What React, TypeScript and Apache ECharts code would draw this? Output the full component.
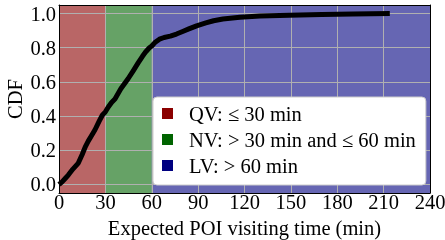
import React, { useEffect, useRef } from "react";
import * as echarts from "echarts";

const cdfMinutes = [0, 2, 4, 6, 9, 12.5, 15, 17, 19, 21, 23.3, 26, 28, 30, 32, 34, 36.2, 40, 44.8, 48, 51.3, 54, 56, 58.5, 60, 62, 65, 68, 72, 76, 80, 84, 89, 95, 100, 106, 117, 130, 149, 170, 190, 214];
const cdfValues = [0, 0.015, 0.035, 0.055, 0.09, 0.125, 0.175, 0.22, 0.255, 0.285, 0.32, 0.37, 0.405, 0.425, 0.455, 0.48, 0.5, 0.56, 0.62, 0.665, 0.713, 0.75, 0.775, 0.8, 0.81, 0.83, 0.85, 0.86, 0.868, 0.88, 0.895, 0.91, 0.928, 0.945, 0.958, 0.968, 0.978, 0.985, 0.99, 0.995, 0.998, 1.0];

const regionNames = ["QV: \u2264 30 min", "NV: > 30 min and \u2264 60 min", "LV: > 60 min"];
const regionStarts = [0, 30, 60];
const regionEnds = [30, 60, 240];
const regionColors = ["#8b0000", "#006400", "#000080"];

const xTicks = [0, 30, 60, 90, 120, 150, 180, 210, 240];
const yTicks = [0, 0.2, 0.4, 0.6, 0.8, 1.0];

const FONT = "Liberation Serif";
const FS = 20.5;

export default function App() {
  const ref = useRef<HTMLDivElement>(null);
  useEffect(() => {
    if (!ref.current) return;
    const chart = echarts.init(ref.current, null, { renderer: "svg" });
    const regionSeries = regionNames.map((name, i) => ({
      name,
      type: "line",
      data: [],
      z: 1,
      itemStyle: { color: regionColors[i] },
      markArea: {
        silent: true,
        itemStyle: { color: regionColors[i], opacity: 0.6 },
        data: [[{ xAxis: regionStarts[i] }, { xAxis: regionEnds[i] }]],
      },
    }));
    chart.setOption({
      animation: false,
      grid: { left: 59, right: 15, top: 5, bottom: 47, containLabel: false, outerBoundsMode: "none" },
      xAxis: [
        {
          type: "value",
          min: 0,
          max: 240,
          interval: 30,
          z: 3,
          name: "Expected POI visiting time (min)",
          nameLocation: "middle",
          nameGap: 24,
          nameMoveOverlap: false,
          nameTextStyle: { fontFamily: FONT, fontSize: FS, color: "#000" },
          axisLine: { show: true, onZero: false, lineStyle: { color: "#000", width: 1 } },
          axisTick: { show: false },
          axisLabel: {
            fontFamily: FONT,
            fontSize: FS,
            color: "#000",
            margin: -2,
            customValues: xTicks,
          },
          splitLine: { show: true, lineStyle: { color: "#b0b0b0", width: 1 } },
        },
        {
          type: "value",
          position: "top",
          min: 0,
          max: 240,
          z: 3,
          axisLine: { show: true, onZero: false, lineStyle: { color: "#000", width: 1 } },
          axisTick: { show: false },
          axisLabel: { show: false },
          splitLine: { show: false },
        },
      ],
      yAxis: [
        {
          type: "value",
          min: -0.05,
          max: 1.05,
          z: 3,
          name: "CDF",
          nameLocation: "middle",
          nameGap: 34,
          nameMoveOverlap: false,
          nameTextStyle: { fontFamily: FONT, fontSize: FS, color: "#000" },
          axisLine: { show: true, onZero: false, lineStyle: { color: "#000", width: 1 } },
          axisTick: { show: false, customValues: yTicks },
          axisLabel: {
            fontFamily: FONT,
            fontSize: FS,
            color: "#000",
            margin: 3,
            customValues: yTicks,
            formatter: (v: number) => v.toFixed(1),
          },
          splitLine: { show: true, lineStyle: { color: "#b0b0b0", width: 1 } },
        },
        {
          type: "value",
          position: "right",
          min: -0.05,
          max: 1.05,
          z: 3,
          axisLine: { show: true, onZero: false, lineStyle: { color: "#000", width: 1 } },
          axisTick: { show: false },
          axisLabel: { show: false },
          splitLine: { show: false },
        },
      ],
      legend: {
        data: regionNames,
        orient: "vertical",
        left: 153,
        top: 97,
        icon: "rect",
        itemWidth: 11,
        itemHeight: 11,
        itemGap: 5,
        backgroundColor: "#fff",
        borderColor: "#cccccc",
        borderWidth: 1,
        borderRadius: 4,
        padding: [6, 10, 9, 9],
        selectedMode: false,
        textStyle: {
          fontFamily: FONT,
          fontSize: FS,
          color: "#000",
          lineHeight: 20,
          padding: [0, 0, 0, 11],
        },
        z: 10,
      },
      series: [
        ...regionSeries,
        {
          name: "CDF",
          type: "line",
          z: 5,
          showSymbol: false,
          symbol: "none",
          lineStyle: { color: "#000", width: 5, join: "round" },
          data: cdfMinutes.map((m, i) => [m, cdfValues[i]]),
        },
      ],
    });
    return () => chart.dispose();
  }, []);
  return <div ref={ref} style={{ position: "fixed", left: 0, top: 0, width: 445, height: 240 }} />;
}
